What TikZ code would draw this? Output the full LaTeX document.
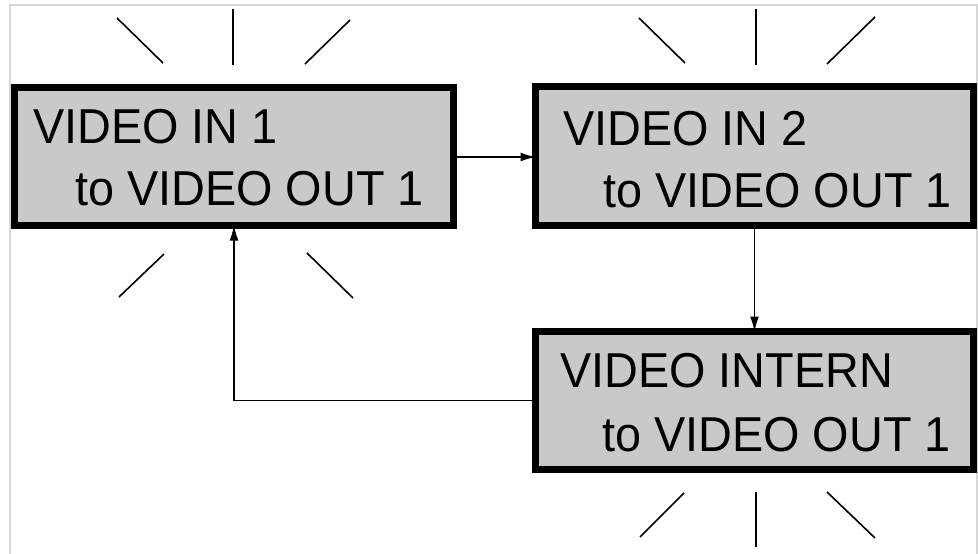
\documentclass[tikz,border=0pt]{standalone}
\usepackage{fontspec}
\setmainfont{Liberation Sans}
\usetikzlibrary{arrows.meta}
\definecolor{boxgray}{RGB}{201,201,201}
\definecolor{framegray}{RGB}{215,215,215}
\newcommand{\disptxt}[1]{\scalebox{0.955}[1]{#1}}
\tikzset{
  dispbox/.style={draw=black, line width=7pt, fill=boxgray, minimum width=438pt, minimum height=138pt, inner sep=0pt, outer sep=0pt},
  disptext/.style={anchor=base west, inner sep=0pt, font=\fontsize{49}{58}\selectfont},
  ray/.style={line width=1.6pt, black},
  flow/.style={line width=1.4pt, -{Latex[length=15pt,width=9pt]}},
  frameline/.style={line width=1.5pt, framegray}
}
\begin{document}
\begin{tikzpicture}[x=1pt,y=-1pt]
\useasboundingbox (0,0) rectangle (978,554);
\fill[white] (0,0) rectangle (978,554);
% frame
\draw[frameline] (10,554) -- (10,5) -- (977,5) -- (977,554);
% boxes
\node[dispbox, minimum width=439pt] (box1) at (234,156.5) {};
\node[dispbox, minimum height=139pt] (box2) at (754.5,156) {};
\node[dispbox] (box3) at (754.5,400.5) {};
% texts
\node[disptext] (t1a) at (33,143) {\disptxt{VIDEO IN 1}};
\node[disptext] (t1b) at (75,205) {\disptxt{to VIDEO OUT 1}};
\node[disptext] (t2a) at (563,145) {\disptxt{VIDEO IN 2}};
\node[disptext] (t2b) at (603,207) {\disptxt{to VIDEO OUT 1}};
\node[disptext] (t3a) at (560,387) {\disptxt{VIDEO INTERN}};
\node[disptext] (t3b) at (602,451) {\disptxt{to VIDEO OUT 1}};
% connectors
\draw[flow] (box1.east |- 0,157) -- (box2.west |- 0,157);
\draw[flow] (box2.south) -- (box3.north);
\draw[flow] (box3.west) -| (box1.south);
% rays box1
\draw[ray] (233,9) -- (233,65);
\draw[ray] (117,18) -- (163,63);
\draw[ray] (350,20) -- (305,64);
\draw[ray] (164,254) -- (119,297);
\draw[ray] (307,253) -- (353,298);
% rays box2
\draw[ray] (756,9) -- (756,65);
\draw[ray] (639,18) -- (685,63);
\draw[ray] (875,17) -- (827,64);
% rays box3
\draw[ray] (756,492) -- (756,547);
\draw[ray] (684,493) -- (640,537);
\draw[ray] (827,492) -- (875,538);
\end{tikzpicture}
\end{document}
